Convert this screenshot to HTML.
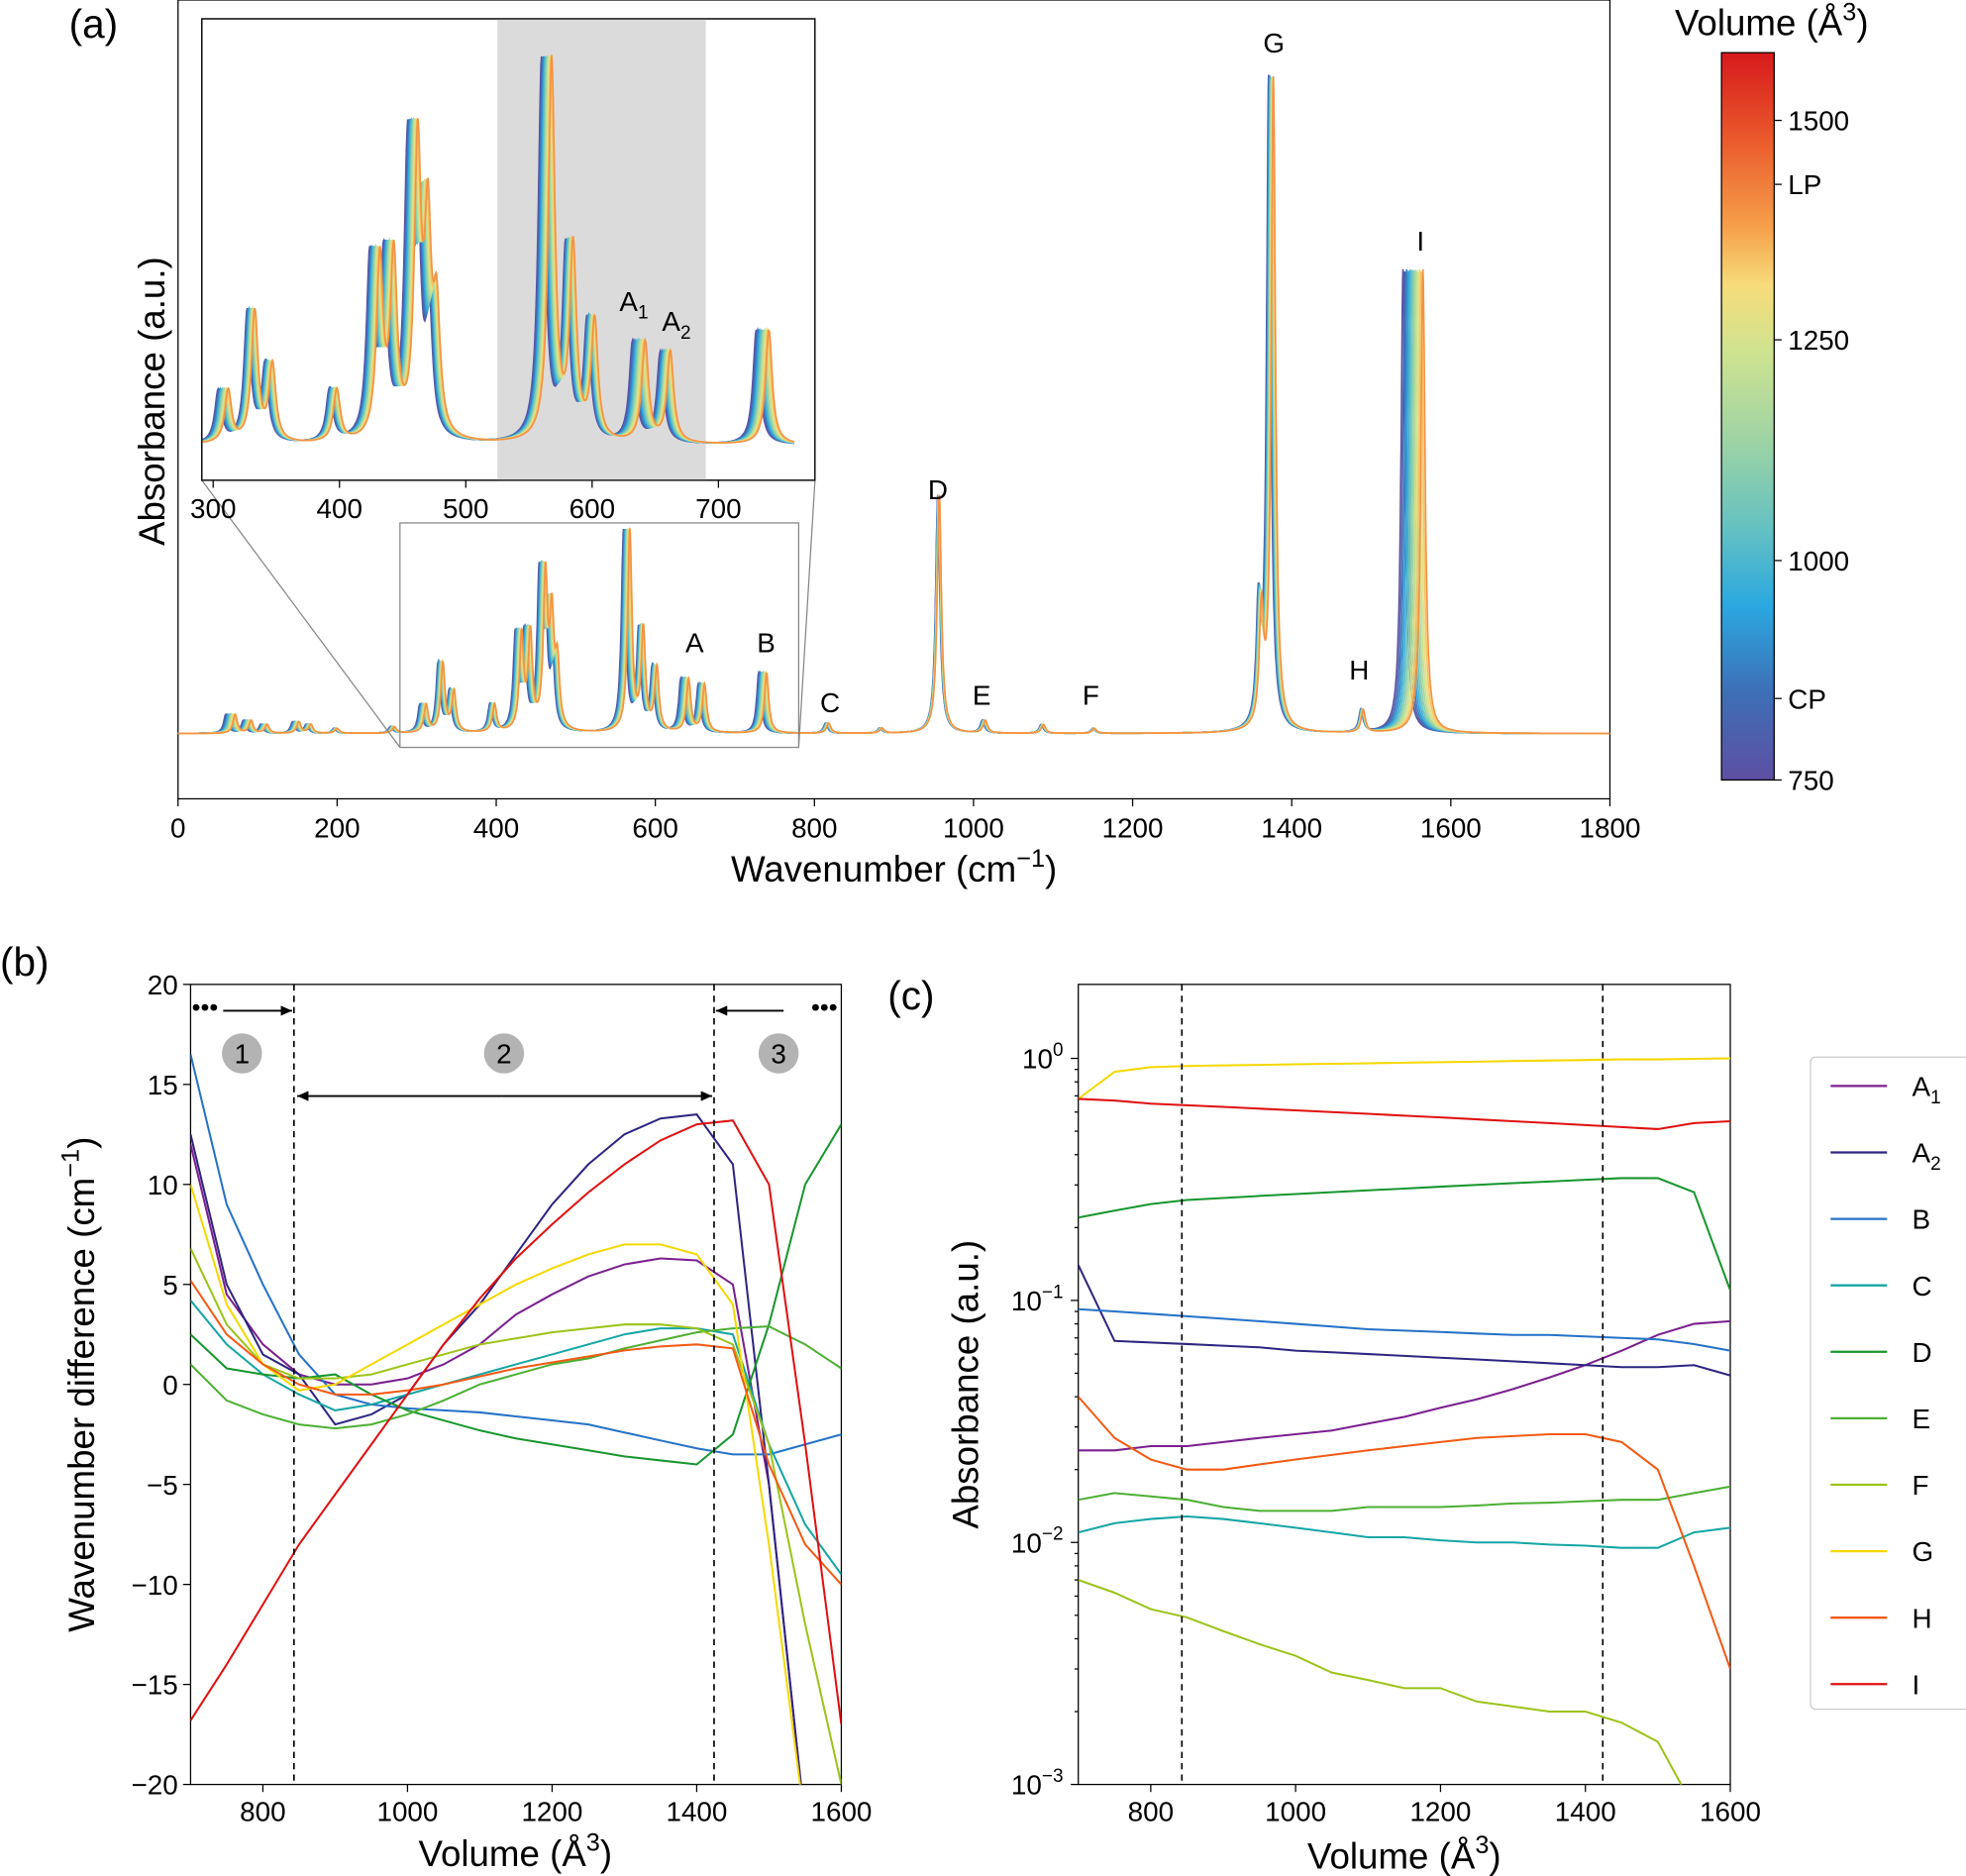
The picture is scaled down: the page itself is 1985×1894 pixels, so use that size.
<!DOCTYPE html>
<html><head><meta charset="utf-8"><style>
html,body{margin:0;padding:0;background:#fff;width:1985px;height:1894px;overflow:hidden}
svg{display:block;font-family:"Liberation Sans","DejaVu Sans",sans-serif}
</style></head><body>
<svg id="fig" width="1985" height="1894" viewBox="0 0 1568 1496" preserveAspectRatio="none" xmlns="http://www.w3.org/2000/svg">
<defs>
<clipPath id="clipA"><rect x="142" y="0" width="1142" height="637"/></clipPath>
<clipPath id="clipIn"><rect x="161" y="15" width="489" height="368"/></clipPath>
<clipPath id="clipB"><rect x="152" y="785" width="519" height="638"/></clipPath>
<clipPath id="clipC"><rect x="860" y="785" width="520" height="638"/></clipPath>
<linearGradient id="cbar" x1="0" y1="1" x2="0" y2="0">
<stop offset="0" stop-color="#5e4fa2"/><stop offset="0.12" stop-color="#3d6fb6"/>
<stop offset="0.24" stop-color="#2ba8e0"/><stop offset="0.35" stop-color="#66c2c0"/>
<stop offset="0.47" stop-color="#9fd4a4"/><stop offset="0.59" stop-color="#cfe38f"/>
<stop offset="0.68" stop-color="#f7dc7a"/><stop offset="0.76" stop-color="#f6a04a"/>
<stop offset="0.88" stop-color="#ea5a2c"/><stop offset="1" stop-color="#d7191c"/>
</linearGradient>
</defs>
<g id="gA"></g><g id="gB"></g><g id="gC"></g>
</svg>
<script>
// ---------- Panel (a) data ----------
const peakCenters=[72,92,112,152,167,200,272,312,333,347,398,432,443,462,470,477,568,585,602,642,662,740,818,885,957,1015,1088,1152,1362,1377,1490,1565];
const peakHeights=[15,10,7,9,7,4,5,22,55,32,22,75,75,120,85,50,160,80,50,42,38,48,8,4,190,10,7,4,90,520,18,370];
const peakShifts=[-12,-10,-8,-8,-6,-4,-5,-8,-6,-6,-6,-8,-8,-8,-8,-6,-8,-6,-6,-10,-8,-10,-4,-3,-2,-4,-3,-2,-4,-6,-3,-25];
const curveVolumes=[760,820,880,940,1000,1060,1120,1180,1240,1300,1360,1420];
const cbarTicks=["750","CP","1000","1250","LP","1500"];
const cbarTickY=[622,557,447,271,147,96];
const xTicksA=[0,200,400,600,800,1000,1200,1400,1600,1800];
const xTicksIn=[300,400,500,600,700];
const peakLabels=["C","D","E","F","G","H","I","A","B"];
const peakLabelPos=[[662,568],[748,398],[783,562],[870,562],[1016,42],[1084,542],[1133,200],[554,520],[611,520]];
// ---------- Panel (b) data ----------
const vols=[700,750,800,850,900,950,1000,1050,1100,1150,1200,1250,1300,1350,1400,1450,1500,1550,1600];
const seriesNames=["A1","A2","B","C","D","E","F","G","H","I"];
const seriesColors=["#7b1f8f","#2e2580","#2472c8","#16a5a5","#17962e","#4caf32","#9cc31a","#f5d800","#f35a14","#e01010"];
const bA1=[12,4.5,2,0.5,0,0,0.3,1,2,3.5,4.5,5.4,6,6.3,6.2,5,-5,-22,-30];
const bA2=[12.5,5,1.5,0.5,-2,-1.5,-0.5,2,4,6.5,9,11,12.5,13.3,13.5,11,-5,-22,-30];
const bB=[16.5,9,5,1.5,-0.5,-1,-1.2,-1.3,-1.4,-1.6,-1.8,-2,-2.4,-2.8,-3.2,-3.5,-3.5,-3,-2.5];
const bC=[4.2,2,0.5,-0.5,-1.3,-1,-0.5,0,0.5,1,1.5,2,2.5,2.8,2.8,2.5,-3,-7,-9.5];
const bD=[2.5,0.8,0.5,0.3,0.5,-0.5,-1.3,-1.8,-2.3,-2.7,-3,-3.3,-3.6,-3.8,-4,-2.5,3,10,13];
const bE=[1,-0.8,-1.5,-2,-2.2,-2,-1.5,-0.8,0,0.5,1,1.3,1.8,2.2,2.6,2.8,2.9,2,0.8];
const bF=[6.8,3,1,0.3,0.3,0.5,1,1.5,2,2.3,2.6,2.8,3,3,2.8,2,-3,-12,-20];
const bG=[10,4,1,-0.3,0,1,2,3,4,5,5.8,6.5,7,7,6.5,4,-8,-22,-30];
const bH=[5.2,2.5,1,0,-0.5,-0.5,-0.3,0,0.4,0.8,1.1,1.4,1.7,1.9,2,1.8,-4,-8,-10];
const bI=[-16.8,-14,-11,-8,-5.5,-3,-0.5,2,4.3,6.3,8,9.6,11,12.2,13,13.2,10,-3,-17];
const yTicksB=[20,15,10,5,0,-5,-10,-15,-20];
const xTicksBC=[800,1000,1200,1400,1600];
// ---------- Panel (c) data ----------
const cA1=[0.024,0.024,0.025,0.025,0.026,0.027,0.028,0.029,0.031,0.033,0.036,0.039,0.043,0.048,0.054,0.062,0.072,0.08,0.082];
const cA2=[0.14,0.068,0.067,0.066,0.065,0.064,0.062,0.061,0.06,0.059,0.058,0.057,0.056,0.055,0.054,0.053,0.053,0.054,0.049];
const cB=[0.092,0.09,0.088,0.086,0.084,0.082,0.08,0.078,0.076,0.075,0.074,0.073,0.072,0.072,0.071,0.07,0.069,0.066,0.062];
const cC=[0.011,0.012,0.0125,0.0128,0.0125,0.012,0.0115,0.011,0.0105,0.0105,0.0102,0.01,0.01,0.0098,0.0097,0.0095,0.0095,0.011,0.0115];
const cD=[0.22,0.235,0.25,0.26,0.265,0.27,0.275,0.28,0.285,0.29,0.295,0.3,0.305,0.31,0.315,0.32,0.32,0.28,0.11];
const cE=[0.015,0.016,0.0155,0.015,0.014,0.0135,0.0135,0.0135,0.014,0.014,0.014,0.0142,0.0145,0.0146,0.0148,0.015,0.015,0.016,0.017];
const cF=[0.007,0.0062,0.0053,0.0049,0.0043,0.0038,0.0034,0.0029,0.0027,0.0025,0.0025,0.0022,0.0021,0.002,0.002,0.0018,0.0015,0.0008,0.0005];
const cG=[0.68,0.88,0.92,0.93,0.935,0.94,0.945,0.95,0.955,0.96,0.965,0.97,0.975,0.98,0.985,0.99,0.99,0.995,1.0];
const cH=[0.04,0.027,0.022,0.02,0.02,0.021,0.022,0.023,0.024,0.025,0.026,0.027,0.0275,0.028,0.028,0.026,0.02,0.008,0.003];
const cI=[0.68,0.67,0.65,0.64,0.63,0.62,0.61,0.6,0.59,0.58,0.57,0.56,0.55,0.54,0.53,0.52,0.51,0.54,0.55];
const yTicksC=[0,-1,-2,-3];

const NS="http://www.w3.org/2000/svg";
function mk(tag,attrs,parent,txt){const e=document.createElementNS(NS,tag);for(const k in attrs)e.setAttribute(k,attrs[k]);if(txt!==undefined)e.textContent=txt;parent.appendChild(e);return e;}
function hex(h){return[parseInt(h.substr(1,2),16),parseInt(h.substr(3,2),16),parseInt(h.substr(5,2),16)];}
const cmV=[750,850,950,1050,1150,1250,1330,1400,1500,1600];
const cmC=["#5e4fa2","#3d6fb6","#2ba8e0","#66c2c0","#9fd4a4","#cfe38f","#f7dc7a","#f6a04a","#ea5a2c","#d7191c"];
function cmap(v){for(let i=0;i<cmV.length-1;i++){if(v<=cmV[i+1]){const t=(v-cmV[i])/(cmV[i+1]-cmV[i]);const a=hex(cmC[i]),b=hex(cmC[i+1]);return"rgb("+a.map((x,j)=>Math.round(x+(b[j]-x)*t)).join(",")+")";}}return cmC[cmC.length-1];}
function spec(w,t){let s=0;for(let i=0;i<peakCenters.length;i++){const c=peakCenters[i]+peakShifts[i]*(1-t);const g=3.2;const d=(w-c)/g;s+=peakHeights[i]/(1+d*d);}return s;}

// ---------- Panel (a) ----------
const gA=document.getElementById('gA');
const xA=w=>142+w*(1142/1800);
const base=585;
mk('rect',{x:142,y:0,width:1142,height:637,fill:'none',stroke:'#000','stroke-width':1},gA);
const mainLines=mk('g',{'clip-path':'url(#clipA)'},gA);

curveVolumes.forEach((v,k)=>{const t=k/(curveVolumes.length-1);let d="";for(let w=0;w<=1800;w+=0.5){const y=base-spec(w,t);d+=(w?"L":"M")+xA(w).toFixed(1)+","+y.toFixed(1);}
const p=mk('path',{d:d,fill:'none',stroke:cmap(v),'stroke-width':1.3},mainLines);});
xTicksA.forEach(v=>{mk('line',{x1:xA(v),x2:xA(v),y1:637,y2:643,stroke:'#000'},gA);const t=mk('text',{x:xA(v),y:668,'font-size':22,'text-anchor':'middle'},gA,v);});
let tl=mk('text',{x:713,y:703,'font-size':29,'text-anchor':'middle'},gA);
tl.innerHTML='Wavenumber (cm<tspan dy="-12" font-size="20">−1</tspan><tspan dy="12">)</tspan>';
tl=mk('text',{x:131,y:320,'font-size':29,'text-anchor':'middle',transform:'rotate(-90 131 320)'},gA,'Absorbance (a.u.)');
tl=mk('text',{x:55,y:30,'font-size':32},gA,'(a)');
peakLabels.forEach((l,i)=>{const t=mk('text',{x:peakLabelPos[i][0],y:peakLabelPos[i][1],'font-size':22,'text-anchor':'middle'},gA,l);});
mk('rect',{x:319,y:417,width:318,height:179,fill:'none',stroke:'#888','stroke-width':1},gA);
mk('line',{x1:161,y1:383,x2:319,y2:596,stroke:'#888','stroke-width':1},gA);
mk('line',{x1:650,y1:383,x2:637,y2:596,stroke:'#888','stroke-width':1},gA);
// inset
const gi=mk('g',{},gA);
mk('rect',{x:161,y:15,width:489,height:368,fill:'#fff',stroke:'#000'},gi);
const xI=w=>170+(w-300)*1.0075;
mk('rect',{x:xI(525),y:15,width:xI(690)-xI(525),height:368,fill:'#dcdbdc'},gi);
const inLines=mk('g',{'clip-path':'url(#clipIn)'},gi);
curveVolumes.forEach((v,k)=>{const t=k/(curveVolumes.length-1);let d="";for(let w=270;w<=760;w+=0.5){const y=355-1.9*spec(w,t);d+=(w>270?"L":"M")+xI(w).toFixed(1)+","+y.toFixed(1);}
const p=mk('path',{d:d,fill:'none',stroke:cmap(v),'stroke-width':1.3},inLines);});
mk('rect',{x:161,y:15,width:489,height:368,fill:'none',stroke:'#000'},gi);
xTicksIn.forEach(v=>{mk('line',{x1:xI(v),x2:xI(v),y1:383,y2:389,stroke:'#000'},gi);mk('text',{x:xI(v),y:413,'font-size':22,'text-anchor':'middle'},gi,v);});
tl=mk('text',{x:494,y:248,'font-size':22},gi);tl.innerHTML='A<tspan dy="6" font-size="15">1</tspan>';
tl=mk('text',{x:528,y:264,'font-size':22},gi);tl.innerHTML='A<tspan dy="6" font-size="15">2</tspan>';
// colorbar
const gcb=mk('g',{},gA);
mk('rect',{x:1373,y:42,width:42,height:580,fill:'url(#cbar)',stroke:'#000'},gcb);
cbarTicks.forEach((l,i)=>{mk('line',{x1:1415,x2:1421,y1:cbarTickY[i],y2:cbarTickY[i],stroke:'#000'},gcb);mk('text',{x:1426,y:cbarTickY[i]+8,'font-size':22},gcb,l);});
tl=mk('text',{x:1413,y:28,'font-size':29,'text-anchor':'middle'},gcb);tl.innerHTML='Volume (Å<tspan dy="-12" font-size="20">3</tspan><tspan dy="12">)</tspan>';

// ---------- Panel (b) ----------
const gB=document.getElementById('gB');
const xB=v=>152+(v-700)*(519/900);
const yB=d=>785+(20-d)*(638/40);
mk('rect',{x:152,y:785,width:519,height:638,fill:'none',stroke:'#000'},gB);
const bSeries=[bA1,bA2,bB,bC,bD,bE,bF,bG,bH,bI];
const bl=mk('g',{'clip-path':'url(#clipB)'},gB);
bSeries.forEach((s,i)=>{const d=s.map((y,j)=>(j?"L":"M")+xB(vols[j]).toFixed(1)+","+yB(y).toFixed(1)).join("");const p=mk('path',{d:d,fill:'none',stroke:seriesColors[i],'stroke-width':1.6},bl);});
[843,1424].forEach(v=>mk('line',{x1:xB(v),x2:xB(v),y1:785,y2:1423,stroke:'#000','stroke-dasharray':'5,4','stroke-width':1.3},gB));
yTicksB.forEach(v=>{mk('line',{x1:146,x2:152,y1:yB(v),y2:yB(v),stroke:'#000'},gB);mk('text',{x:142,y:yB(v)+8,'font-size':22,'text-anchor':'end'},gB,v<0?'−'+(-v):v);});
xTicksBC.forEach(v=>{mk('line',{x1:xB(v),x2:xB(v),y1:1423,y2:1429,stroke:'#000'},gB);mk('text',{x:xB(v),y:1452,'font-size':22,'text-anchor':'middle'},gB,v);});
tl=mk('text',{x:411,y:1488,'font-size':29,'text-anchor':'middle'},gB);tl.innerHTML='Volume (Å<tspan dy="-12" font-size="20">3</tspan><tspan dy="12">)</tspan>';
tl=mk('text',{x:75,y:1104,'font-size':29,'text-anchor':'middle',transform:'rotate(-90 75 1104)'},gB);tl.innerHTML='Wavenumber difference (cm<tspan dy="-12" font-size="20">−1</tspan><tspan dy="12">)</tspan>';
mk('text',{x:0,y:778,'font-size':32},gB,'(b)');
[[193,'1'],[402,'2'],[621,'3']].forEach(r=>{mk('circle',{cx:r[0],cy:840,r:16,fill:'#b3b3b3'},gB);mk('text',{x:r[0],y:848,'font-size':22,'text-anchor':'middle'},gB,r[1]);});
function arrow(x1,x2,y){mk('line',{x1:x1,x2:x2,y1:y,y2:y,stroke:'#000','stroke-width':1.5},gB);const dir=x2>x1?1:-1;mk('path',{d:`M${x2},${y}l${-dir*9},-4l0,8z`,fill:'#000'},gB);}
arrow(178,233,806);mk('text',{x:153,y:810,'font-size':20},gB,'•••');
arrow(625,571,806);mk('text',{x:647,y:810,'font-size':20},gB,'•••');
arrow(400,237,874);arrow(400,568,874);

// ---------- Panel (c) ----------
const gC=document.getElementById('gC');
const xC=v=>860+(v-700)*(520/900);
const yC=a=>1423-(Math.log10(a)+3)*193;
mk('rect',{x:860,y:785,width:520,height:638,fill:'none',stroke:'#000'},gC);
const cSeries=[cA1,cA2,cB,cC,cD,cE,cF,cG,cH,cI];
const cl=mk('g',{'clip-path':'url(#clipC)'},gC);
cSeries.forEach((s,i)=>{const d=s.map((y,j)=>(j?"L":"M")+xC(vols[j]).toFixed(1)+","+yC(y).toFixed(1)).join("");const p=mk('path',{d:d,fill:'none',stroke:seriesColors[i],'stroke-width':1.6},cl);});
[843,1424].forEach(v=>mk('line',{x1:xC(v),x2:xC(v),y1:785,y2:1423,stroke:'#000','stroke-dasharray':'5,4','stroke-width':1.3},gC));
yTicksC.forEach(e=>{const y=yC(Math.pow(10,e));mk('line',{x1:854,x2:860,y1:y,y2:y,stroke:'#000'},gC);const t=mk('text',{x:848,y:y+8,'font-size':22,'text-anchor':'end'},gC);t.innerHTML='10<tspan dy="-10" font-size="15">'+(e<0?'−'+(-e):e)+'</tspan>';
for(let m=2;m<10&&e<0;m++){const ym=yC(m*Math.pow(10,e));mk('line',{x1:857,x2:860,y1:ym,y2:ym,stroke:'#000'},gC);}});
xTicksBC.forEach(v=>{mk('line',{x1:xC(v),x2:xC(v),y1:1423,y2:1429,stroke:'#000'},gC);mk('text',{x:xC(v),y:1452,'font-size':22,'text-anchor':'middle'},gC,v);});
tl=mk('text',{x:1120,y:1490,'font-size':29,'text-anchor':'middle'},gC);tl.innerHTML='Volume (Å<tspan dy="-12" font-size="20">3</tspan><tspan dy="12">)</tspan>';
tl=mk('text',{x:780,y:1104,'font-size':29,'text-anchor':'middle',transform:'rotate(-90 780 1104)'},gC,'Absorbance (a.u.)');
mk('text',{x:708,y:805,'font-size':32},gC,'(c)');
const lg=mk('g',{},gC);
mk('rect',{x:1444,y:843,width:130,height:520,rx:4,fill:'#fff',stroke:'#ccc'},lg);
seriesNames.forEach((n,i)=>{const y=866+i*53;mk('line',{x1:1460,x2:1505,y1:y,y2:y,stroke:seriesColors[i],'stroke-width':1.8},lg);const t=mk('text',{x:1525,y:y+8,'font-size':22},lg);
if(n.length>1)t.innerHTML=n[0]+'<tspan dy="6" font-size="15">'+n[1]+'</tspan>';else t.textContent=n;});
</script>
</body></html>
